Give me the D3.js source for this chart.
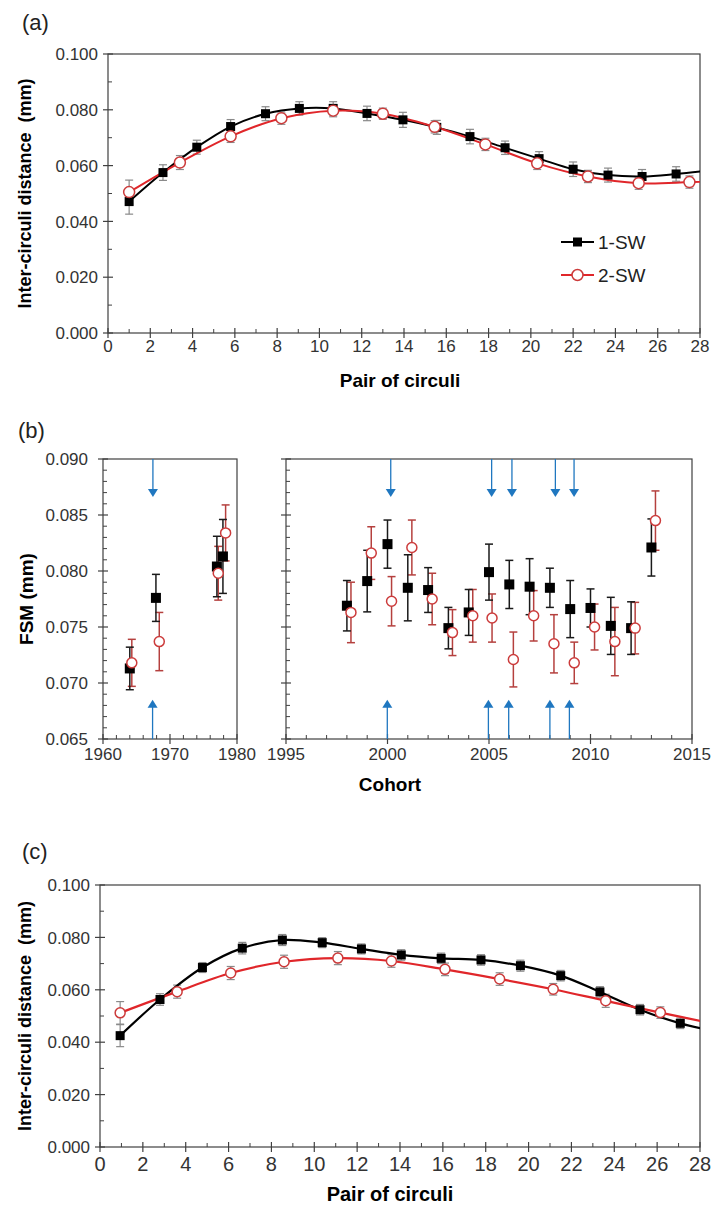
<!DOCTYPE html>
<html><head><meta charset="utf-8">
<script src="https://cdn.jsdelivr.net/npm/d3@7"></script>
<style>
body{margin:0;background:#fff}
svg{display:block}
text{font-family:"Liberation Sans",Arial,sans-serif}
</style></head><body>
<svg id="chart" width="713" height="1205"></svg>
<script>
// ---------- DATA ----------
// Panel (a)
const aXTicks = [0,2,4,6,8,10,12,14,16,18,20,22,24,26,28];
const aYTicks = [0,0.02,0.04,0.06,0.08,0.10];
const aBlackX = [1.0,2.6,4.2,5.8,7.45,9.05,10.65,12.25,13.95,15.55,17.12,18.78,20.39,22.0,23.65,25.26,26.87,28.5];
const aBlackY = [0.0471,0.0575,0.0666,0.0740,0.0786,0.0805,0.0805,0.0787,0.0764,0.0737,0.0704,0.0664,0.0625,0.0587,0.0566,0.0561,0.0570,0.0583];
const aBlackErr = [0.0045,0.0028,0.0025,0.0025,0.0025,0.0024,0.0024,0.0026,0.0027,0.0025,0.0026,0.0024,0.0025,0.0026,0.0025,0.0025,0.0026,0.0025];
const aRedX = [1.0,3.4,5.8,8.2,10.65,13.0,15.45,17.85,20.3,22.7,25.1,27.5,29.9];
const aRedY = [0.0505,0.0611,0.0705,0.0770,0.0797,0.0786,0.0739,0.0676,0.0608,0.0561,0.0537,0.0541,0.0550];
const aRedErr = [0.0043,0.0025,0.0022,0.0022,0.0022,0.0020,0.0022,0.0022,0.0022,0.0022,0.0022,0.0022,0.0022];
const legendLabels = ["1-SW","2-SW"];

// Panel (b)
const bYTicks = [0.065,0.070,0.075,0.080,0.085,0.090];
const bLeftXTicks = [1960,1970,1980];
const bRightXTicks = [1995,2000,2005,2010,2015];
const bLeftBlackX = [1964.0,1967.9,1977.0,1977.9];
const bLeftBlackY = [0.0713,0.0776,0.0804,0.0813];
const bLeftBlackErr = [0.0019,0.0021,0.0027,0.0033];
const bLeftRedX = [1964.3,1968.4,1977.2,1978.3];
const bLeftRedY = [0.0718,0.0737,0.0798,0.0834];
const bLeftRedErr = [0.0021,0.0026,0.0024,0.0025];
const bRightBlackX = [1998,1999,2000,2001,2002,2003,2004,2005,2006,2007,2008,2009,2010,2011,2012,2013];
const bRightBlackY = [0.0769,0.0791,0.0824,0.0785,0.0783,0.0749,0.0763,0.0799,0.0788,0.0786,0.0785,0.0766,0.0767,0.0751,0.0749,0.0821];
const bRightBlackErr = [0.00225,0.00275,0.00215,0.00295,0.0020,0.00185,0.00205,0.0025,0.00215,0.0025,0.00175,0.00255,0.0017,0.00255,0.00235,0.00255];
const bRightRedX = [1998.2,1999.2,2000.2,2001.2,2002.2,2003.2,2004.2,2005.15,2006.2,2007.2,2008.2,2009.2,2010.2,2011.2,2012.2,2013.2];
const bRightRedY = [0.0763,0.0816,0.0773,0.0821,0.0775,0.0745,0.0760,0.0758,0.0721,0.0760,0.0735,0.0718,0.0750,0.0737,0.0749,0.0845];
const bRightRedErr = [0.0027,0.00235,0.0022,0.00245,0.0023,0.00205,0.00235,0.00215,0.00245,0.00225,0.0026,0.00185,0.00205,0.00305,0.0023,0.00265];
const bArrowTopLeft = [1967.45];
const bArrowBottomLeft = [1967.4];
const bArrowTopRight = [2000.16,2005.13,2006.13,2008.27,2009.19];
const bArrowBottomRight = [1999.99,2004.97,2005.97,2008.0,2008.96];

// Panel (c)
const cXTicks = [0,2,4,6,8,10,12,14,16,18,20,22,24,26,28];
const cYTicks = [0,0.02,0.04,0.06,0.08,0.10];
const cBlackX = [0.94,2.8,4.78,6.64,8.51,10.37,12.2,14.06,15.92,17.78,19.62,21.5,23.33,25.2,27.08,28.95];
const cBlackY = [0.0425,0.0563,0.0685,0.0759,0.0790,0.0780,0.0756,0.0733,0.0720,0.0714,0.0692,0.0654,0.0592,0.0524,0.0472,0.0437];
const cBlackErr = [0.0042,0.0022,0.0019,0.0022,0.0021,0.0019,0.0019,0.0020,0.0020,0.0020,0.0021,0.0020,0.0020,0.0020,0.0020,0.0020];
const cRedX = [0.94,3.6,6.1,8.59,11.1,13.6,16.1,18.65,21.15,23.6,26.15,28.65];
const cRedY = [0.0512,0.0593,0.0664,0.0707,0.0721,0.0710,0.0678,0.0641,0.0602,0.0558,0.0513,0.0470];
const cRedErr = [0.0043,0.0025,0.0025,0.0025,0.0025,0.0024,0.0024,0.0024,0.0022,0.0025,0.0022,0.0022];

// ---------- DRAWING ----------
const svg = d3.select("#chart");
svg.append("rect").attr("width",713).attr("height",1205).attr("fill","#fff");
const AX = "#404040";
const RED_LINE = "#e0262a", RED_MK = "#cc3b3b", RED_BAR = "#b5403e", BLUE = "#1f77c0";
const zip = (xs, ys, es) => xs.map((x,i)=>({x, y: ys[i], e: es ? es[i] : 0}));
const narrow = '"Liberation Sans Narrow","Arial Narrow","Liberation Sans",Arial,sans-serif';
const regular = '"Liberation Sans",Arial,sans-serif';

function frame(g, x, y){
  const [l,r] = x.range(), [b,t] = y.range();
  g.append("rect").attr("x",l).attr("y",t).attr("width",r-l).attr("height",b-t)
    .attr("fill","none").attr("stroke",AX).attr("stroke-width",1.2);
}
function yAxis(g, y, xpos, majors, minors, fmt, opts){
  majors.forEach(v=>g.append("line").attr("x1",xpos-5).attr("x2",xpos+5).attr("y1",y(v)).attr("y2",y(v)).attr("stroke",AX).attr("stroke-width",1.2));
  minors.forEach(v=>g.append("line").attr("x1",xpos).attr("x2",xpos+4).attr("y1",y(v)).attr("y2",y(v)).attr("stroke",AX).attr("stroke-width",1));
  if(fmt){
    majors.forEach(v=>g.append("text").attr("x",xpos-opts.gap).attr("y",y(v)).attr("dy","0.36em")
      .attr("text-anchor","end").attr("font-size",opts.size).attr("fill","#333")
      .style("font-family",opts.family).text(fmt(v)));
  }
}
function xAxis(g, x, ypos, majors, minors, opts){
  majors.forEach(v=>g.append("line").attr("x1",x(v)).attr("x2",x(v)).attr("y1",ypos-5).attr("y2",ypos+5).attr("stroke",AX).attr("stroke-width",1.2));
  minors.forEach(v=>g.append("line").attr("x1",x(v)).attr("x2",x(v)).attr("y1",ypos-4).attr("y2",ypos).attr("stroke",AX).attr("stroke-width",1));
  majors.forEach(v=>g.append("text").attr("x",x(v)).attr("y",ypos+opts.dy)
    .attr("text-anchor","middle").attr("font-size",opts.size).attr("fill","#333")
    .style("font-family",opts.family).text(v));
}
function errBars(g, x, y, data, color, cap, w){
  data.forEach(d=>{
    const cx = x(d.x), y1 = y(d.y-d.e), y2 = y(d.y+d.e);
    g.append("line").attr("x1",cx).attr("x2",cx).attr("y1",y1).attr("y2",y2).attr("stroke",color).attr("stroke-width",w);
    g.append("line").attr("x1",cx-cap).attr("x2",cx+cap).attr("y1",y1).attr("y2",y1).attr("stroke",color).attr("stroke-width",w);
    g.append("line").attr("x1",cx-cap).attr("x2",cx+cap).attr("y1",y2).attr("y2",y2).attr("stroke",color).attr("stroke-width",w);
  });
}
function squares(g, x, y, data, s){
  g.selectAll(null).data(data).enter().append("rect")
    .attr("x",d=>x(d.x)-s/2).attr("y",d=>y(d.y)-s/2).attr("width",s).attr("height",s).attr("fill","#000");
}
function circles(g, x, y, data, r, stroke){
  g.selectAll(null).data(data).enter().append("circle")
    .attr("cx",d=>x(d.x)).attr("cy",d=>y(d.y)).attr("r",r)
    .attr("fill","#fff").attr("stroke",stroke).attr("stroke-width",1.5);
}
function clipFor(id, x, y){
  const [l,r] = x.range(), [b,t] = y.range();
  svg.append("clipPath").attr("id",id).append("rect").attr("x",l).attr("y",t-20).attr("width",r-l).attr("height",b-t+40);
  return "url(#"+id+")";
}
function arrow(g, x, y, yr, v, dir){
  const cx = x(v);
  const [b,t] = y.range();
  if(dir==="down"){
    const tip = y(yr[0]);
    g.append("line").attr("x1",cx).attr("x2",cx).attr("y1",t).attr("y2",tip-6).attr("stroke",BLUE).attr("stroke-width",1.3);
    g.append("path").attr("d",`M${cx-5},${tip-8}L${cx+5},${tip-8}L${cx},${tip}Z`).attr("fill",BLUE);
  } else {
    const tip = y(yr[1]);
    g.append("line").attr("x1",cx).attr("x2",cx).attr("y1",b).attr("y2",tip+6).attr("stroke",BLUE).attr("stroke-width",1.3);
    g.append("path").attr("d",`M${cx-5},${tip+8}L${cx+5},${tip+8}L${cx},${tip}Z`).attr("fill",BLUE);
  }
}
const f3 = d3.format(".3f");
const range = (a,b,s)=>d3.range(a,b+1e-9,s).map(v=>+v.toFixed(4));

// ===== Panel (a) =====
{
  const g = svg.append("g");
  const x = d3.scaleLinear().domain([0,28]).range([108,700]);
  const y = d3.scaleLinear().domain([0,0.1]).range([333,54]);
  g.append("text").attr("x",22).attr("y",30).attr("font-size",22).attr("fill","#222").text("(a)");
  frame(g,x,y);
  yAxis(g,y,x(0),aYTicks,range(0.01,0.09,0.02),f3,{gap:10,size:17,family:narrow});
  xAxis(g,x,y(0),aXTicks,range(1,27,2),{dy:19,size:17,family:narrow});
  const clip = clipFor("clipA",x,y);
  const cg = g.append("g").attr("clip-path",clip);
  const black = zip(aBlackX,aBlackY,aBlackErr), red = zip(aRedX,aRedY,aRedErr);
  errBars(cg,x,y,black,"#8a8a8a",4,1.2);
  errBars(cg,x,y,red,"#8a8a8a",4,1.2);
  const line = d3.line().x(d=>x(d.x)).y(d=>y(d.y)).curve(d3.curveCatmullRom.alpha(0.5));
  cg.append("path").attr("d",line(black)).attr("fill","none").attr("stroke","#000").attr("stroke-width",2);
  cg.append("path").attr("d",line(red)).attr("fill","none").attr("stroke",RED_LINE).attr("stroke-width",2);
  squares(cg,x,y,black,9);
  circles(cg,x,y,red,5.5,RED_MK);
  // legend
  const lg = g.append("g");
  [[0,"#000"],[1,RED_LINE]].forEach(([i,c])=>{
    const ly = 242 + i*33;
    lg.append("line").attr("x1",561).attr("x2",594).attr("y1",ly).attr("y2",ly).attr("stroke",c).attr("stroke-width",2);
    if(i===0) lg.append("rect").attr("x",573).attr("y",ly-4.5).attr("width",9).attr("height",9).attr("fill","#000");
    else lg.append("circle").attr("cx",577.5).attr("cy",ly).attr("r",5.5).attr("fill","#fff").attr("stroke",RED_MK).attr("stroke-width",1.5);
    lg.append("text").attr("x",598).attr("y",ly).attr("dy","0.36em").attr("font-size",19).style("font-family",narrow).attr("fill","#222").text(legendLabels[i]);
  });
  g.append("text").attr("x",400).attr("y",387).attr("text-anchor","middle")
    .attr("font-size",19).attr("font-weight","bold").text("Pair of circuli");
  g.append("text").attr("transform",`translate(31,${(y.range()[0]+y.range()[1])/2}) rotate(-90)`)
    .attr("text-anchor","middle").attr("font-size",18).attr("font-weight","bold").style("white-space","pre")
    .text("Inter-circuli distance  (mm)");
}

// ===== Panel (b) =====
{
  const g = svg.append("g");
  const y = d3.scaleLinear().domain([0.065,0.090]).range([739,459]);
  const xl = d3.scaleLinear().domain([1960,1980]).range([103,237]);
  const xr = d3.scaleLinear().domain([1995,2015]).range([286,692]);
  g.append("text").attr("x",18).attr("y",438).attr("font-size",22).attr("fill","#222").text("(b)");
  frame(g,xl,y); frame(g,xr,y);
  const minorsY = range(0.065,0.090,0.001).filter(v=>!bYTicks.some(t=>Math.abs(t-v)<1e-6));
  yAxis(g,y,xl(1960),bYTicks,minorsY,f3,{gap:15,size:17,family:regular});
  yAxis(g,y,xr(1995),bYTicks,minorsY,null,{});
  xAxis(g,xl,y(0.065),bLeftXTicks,range(1962,1978,2).filter(v=>v!==1970),{dy:21,size:17,family:regular});
  xAxis(g,xr,y(0.065),bRightXTicks,range(1996,2014,1).filter(v=>v%5!==0),{dy:21,size:17,family:regular});
  const yr = [0.0866,0.0685];
  bArrowTopLeft.forEach(v=>arrow(g,xl,y,yr,v,"down"));
  bArrowBottomLeft.forEach(v=>arrow(g,xl,y,yr,v,"up"));
  bArrowTopRight.forEach(v=>arrow(g,xr,y,yr,v,"down"));
  bArrowBottomRight.forEach(v=>arrow(g,xr,y,yr,v,"up"));
  const sets = [[xl,bLeftBlackX,bLeftBlackY,bLeftBlackErr,bLeftRedX,bLeftRedY,bLeftRedErr],
                [xr,bRightBlackX,bRightBlackY,bRightBlackErr,bRightRedX,bRightRedY,bRightRedErr]];
  sets.forEach(([x,bx,by,be,rx,ry,re])=>{
    const black = zip(bx,by,be), red = zip(rx,ry,re);
    errBars(g,x,y,red,RED_BAR,4,1.5);
    errBars(g,x,y,black,"#1a1a1a",4,1.5);
    squares(g,x,y,black,10);
    circles(g,x,y,red,5,RED_MK);
  });
  g.append("text").attr("x",390).attr("y",791).attr("text-anchor","middle")
    .attr("font-size",19).attr("font-weight","bold").text("Cohort");
  g.append("text").attr("transform",`translate(33,599) rotate(-90)`)
    .attr("text-anchor","middle").attr("font-size",19).attr("font-weight","bold").text("FSM (mm)");
}

// ===== Panel (c) =====
{
  const g = svg.append("g");
  const x = d3.scaleLinear().domain([0,28]).range([100,700]);
  const y = d3.scaleLinear().domain([0,0.1]).range([1147,885]);
  g.append("text").attr("x",22).attr("y",859).attr("font-size",22).attr("fill","#222").text("(c)");
  frame(g,x,y);
  yAxis(g,y,x(0),cYTicks,range(0.01,0.09,0.02),f3,{gap:10,size:17,family:narrow});
  xAxis(g,x,y(0),cXTicks,range(1,27,2),{dy:24,size:20,family:narrow});
  const clip = clipFor("clipC",x,y);
  const cg = g.append("g").attr("clip-path",clip);
  const black = zip(cBlackX,cBlackY,cBlackErr), red = zip(cRedX,cRedY,cRedErr);
  errBars(cg,x,y,black,"#8a8a8a",4,1.2);
  errBars(cg,x,y,red,"#8a8a8a",4,1.2);
  const line = d3.line().x(d=>x(d.x)).y(d=>y(d.y)).curve(d3.curveCatmullRom.alpha(0.5));
  cg.append("path").attr("d",line(black)).attr("fill","none").attr("stroke","#000").attr("stroke-width",2.2);
  cg.append("path").attr("d",line(red)).attr("fill","none").attr("stroke",RED_LINE).attr("stroke-width",2.2);
  squares(cg,x,y,black,9);
  circles(cg,x,y,red,5,RED_MK);
  g.append("text").attr("x",390).attr("y",1201).attr("text-anchor","middle")
    .attr("font-size",20).attr("font-weight","bold").style("font-family",narrow).text("Pair of circuli");
  g.append("text").attr("transform",`translate(31,${(y.range()[0]+y.range()[1])/2}) rotate(-90)`)
    .attr("text-anchor","middle").attr("font-size",18).attr("font-weight","bold").style("white-space","pre")
    .text("Inter-circuli distance  (mm)");
}
</script>
</body></html>
